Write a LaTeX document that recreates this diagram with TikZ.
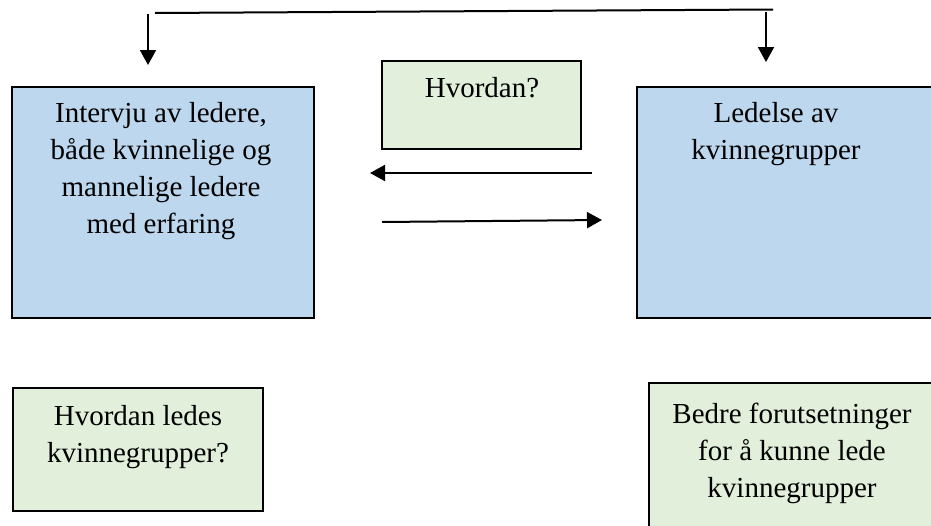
\documentclass[tikz,border=0pt]{standalone}
\usepackage{fontspec}
\setmainfont{Liberation Serif}
\usetikzlibrary{arrows.meta}
\definecolor{boxblue}{HTML}{BDD7EE}
\definecolor{boxgreen}{HTML}{E2EFDA}
\begin{document}
\begin{tikzpicture}[x=1pt,y=-1pt,
  frame/.style={draw=black, line width=1.8pt, inner sep=0pt, outer sep=0pt, anchor=north west},
  bluebox/.style={frame, fill=boxblue},
  greenbox/.style={frame, fill=boxgreen},
  boxtext/.style={inner sep=0pt, anchor=north, align=center,
    font=\fontsize{29}{37}\selectfont},
  flow/.style={line width=2pt, -{Triangle[length=15pt,width=16pt]}},
  link/.style={line width=2pt}]
\useasboundingbox (0,0) rectangle (931,525);
\begin{scope}
\clip (0,0) rectangle (931,525);

% main boxes
\node[bluebox, minimum width=302, minimum height=231] (interview) at (12,87) {};
\node[boxtext] (interviewtxt) at (161,102)
  {Intervju av ledere,\\både kvinnelige og\\mannelige ledere\\med erfaring};

\node[bluebox, minimum width=310, minimum height=231] (leading) at (637,87) {};
\node[boxtext] (leadingtxt) at (776,102) {Ledelse av\\kvinnegrupper};

\node[greenbox, minimum width=199, minimum height=88] (how) at (382,61) {};
\node[boxtext] (howtxt) at (482,77) {Hvordan?};

% lower boxes
\node[greenbox, minimum width=250, minimum height=123] (question) at (13,388) {};
\node[boxtext] (questiontxt) at (138,405) {Hvordan ledes\\kvinnegrupper?};

\node[greenbox, minimum width=300, minimum height=160] (result) at (649,383) {};
\node[boxtext] (resulttxt) at (792,403)
  {Bedre forutsetninger\\for å kunne lede\\kvinnegrupper};

% feedback line over the top
\coordinate (topL) at (155,13);
\coordinate (topR) at (773,9.5);
\coordinate (dropL) at (148,14);
\coordinate (tipL) at (148,65);
\coordinate (dropR) at (766,12);
\coordinate (tipR) at (766,62);
\draw[link] (topL) -- (topR);
\draw[flow] (dropL) -- (tipL);
\draw[flow] (dropR) -- (tipR);

% exchange between the two main boxes
\coordinate (backS) at (592,173);
\coordinate (backE) at (370,173);
\coordinate (fwdS) at (382,222);
\coordinate (fwdE) at (602,220);
\draw[flow] (backS) -- (backE);
\draw[flow] (fwdS) -- (fwdE);
\end{scope}
\end{tikzpicture}
\end{document}
